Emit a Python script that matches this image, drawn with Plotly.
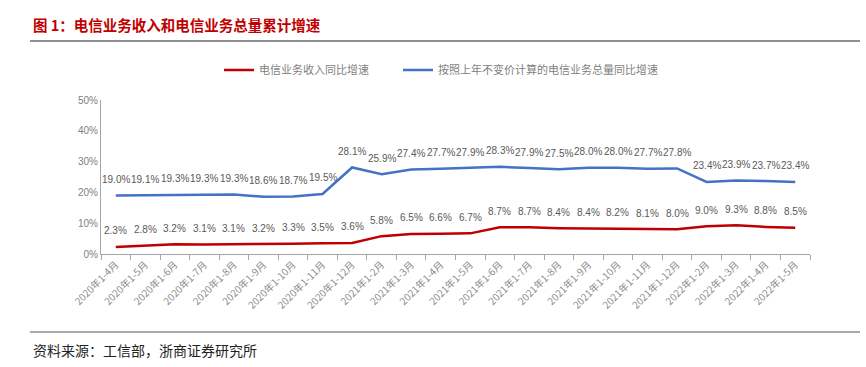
import plotly.graph_objects as go

categories = ["2020年1-4月", "2020年1-5月", "2020年1-6月", "2020年1-7月", "2020年1-8月", "2020年1-9月",
              "2020年1-10月", "2020年1-11月", "2020年1-12月", "2021年1-2月", "2021年1-3月", "2021年1-4月",
              "2021年1-5月", "2021年1-6月", "2021年1-7月", "2021年1-8月", "2021年1-9月", "2021年1-10月",
              "2021年1-11月", "2021年1-12月", "2022年1-2月", "2022年1-3月", "2022年1-4月", "2022年1-5月"]
revenue_growth = [2.3, 2.8, 3.2, 3.1, 3.1, 3.2, 3.3, 3.5, 3.6, 5.8, 6.5, 6.6, 6.7, 8.7, 8.7, 8.4,
                  8.4, 8.2, 8.1, 8.0, 9.0, 9.3, 8.8, 8.5]
volume_growth = [19.0, 19.1, 19.3, 19.3, 19.3, 18.6, 18.7, 19.5, 28.1, 25.9, 27.4, 27.7, 27.9, 28.3,
                 27.9, 27.5, 28.0, 28.0, 27.7, 27.8, 23.4, 23.9, 23.7, 23.4]
series_names = ["电信业务收入同比增速", "按照上年不变价计算的电信业务总量同比增速"]

W, H = 866, 367
L, R, T, B = 101, 810, 100, 254

def px(x):
    return (x - L) / (R - L)

def py(y):
    return (B - y) / (B - T)

CJK = "Noto Sans CJK SC"
RED = "#C00000"
BLUE = "#4472C4"

fig = go.Figure()
fig.add_trace(go.Scatter(x=categories, y=revenue_growth, mode="lines", name=series_names[0],
                         line=dict(color=RED, width=2.5), legend="legend"))
fig.add_trace(go.Scatter(x=categories, y=volume_growth, mode="lines", name=series_names[1],
                         line=dict(color=BLUE, width=2.5), legend="legend2"))

annotations = []
for series in (revenue_growth, volume_growth):
    for c, v in zip(categories, series):
        annotations.append(dict(x=c, y=v, xref="x", yref="y", text=f"{v:.1f}%", showarrow=False,
                                yshift=16, font=dict(family="Liberation Sans", size=10, color="#595959")))

annotations.append(dict(x=px(31), y=py(25), xref="paper", yref="paper", xanchor="left", yanchor="middle",
                        text="<b>图 1：电信业务收入和电信业务总量累计增速</b>", showarrow=False,
                        font=dict(family=CJK, size=14.5, color=RED)))
annotations.append(dict(x=px(31), y=py(350), xref="paper", yref="paper", xanchor="left", yanchor="middle",
                        text="资料来源：工信部，浙商证券研究所", showarrow=False,
                        font=dict(family=CJK, size=14, color="#222222")))

shapes = [
    dict(type="line", xref="paper", yref="paper", x0=px(30), x1=px(860), y0=py(41), y1=py(41),
         line=dict(color="#222222", width=1.2)),
    dict(type="line", xref="paper", yref="paper", x0=px(30), x1=px(860), y0=py(332), y1=py(332),
         line=dict(color="#555555", width=1)),
]

legend_font = dict(family=CJK, size=11, color="#7f7f7f")
fig.update_layout(
    width=W, height=H,
    margin=dict(l=L, r=W - R, t=T, b=H - B),
    plot_bgcolor="white", paper_bgcolor="white",
    showlegend=True,
    legend=dict(orientation="h", x=px(219), y=py(70), xanchor="left", yanchor="middle",
                font=legend_font, itemwidth=30, bgcolor="rgba(0,0,0,0)"),
    legend2=dict(orientation="h", x=px(398), y=py(70), xanchor="left", yanchor="middle",
                 font=legend_font, itemwidth=30, bgcolor="rgba(0,0,0,0)"),
    annotations=annotations,
    shapes=shapes,
    xaxis=dict(type="category", range=[-0.5, len(categories) - 0.5], showgrid=False,
               showline=True, linecolor="#a6a6a6", linewidth=1,
               ticks="outside", tickson="boundaries", ticklen=5, tickcolor="#a6a6a6",
               tickangle=-45, tickfont=dict(family=CJK, size=10, color="#8c8c8c")),
    yaxis=dict(range=[0, 50], dtick=10, ticksuffix="%", showgrid=False, zeroline=False,
               showline=True, linecolor="#a6a6a6", linewidth=1, ticks="",
               tickfont=dict(family="Liberation Sans", size=10, color="#7f7f7f")),
)

fig.write_html("out.html", config={"displayModeBar": False},
               post_script="document.body.style.margin='0';document.body.style.overflow='hidden';")
